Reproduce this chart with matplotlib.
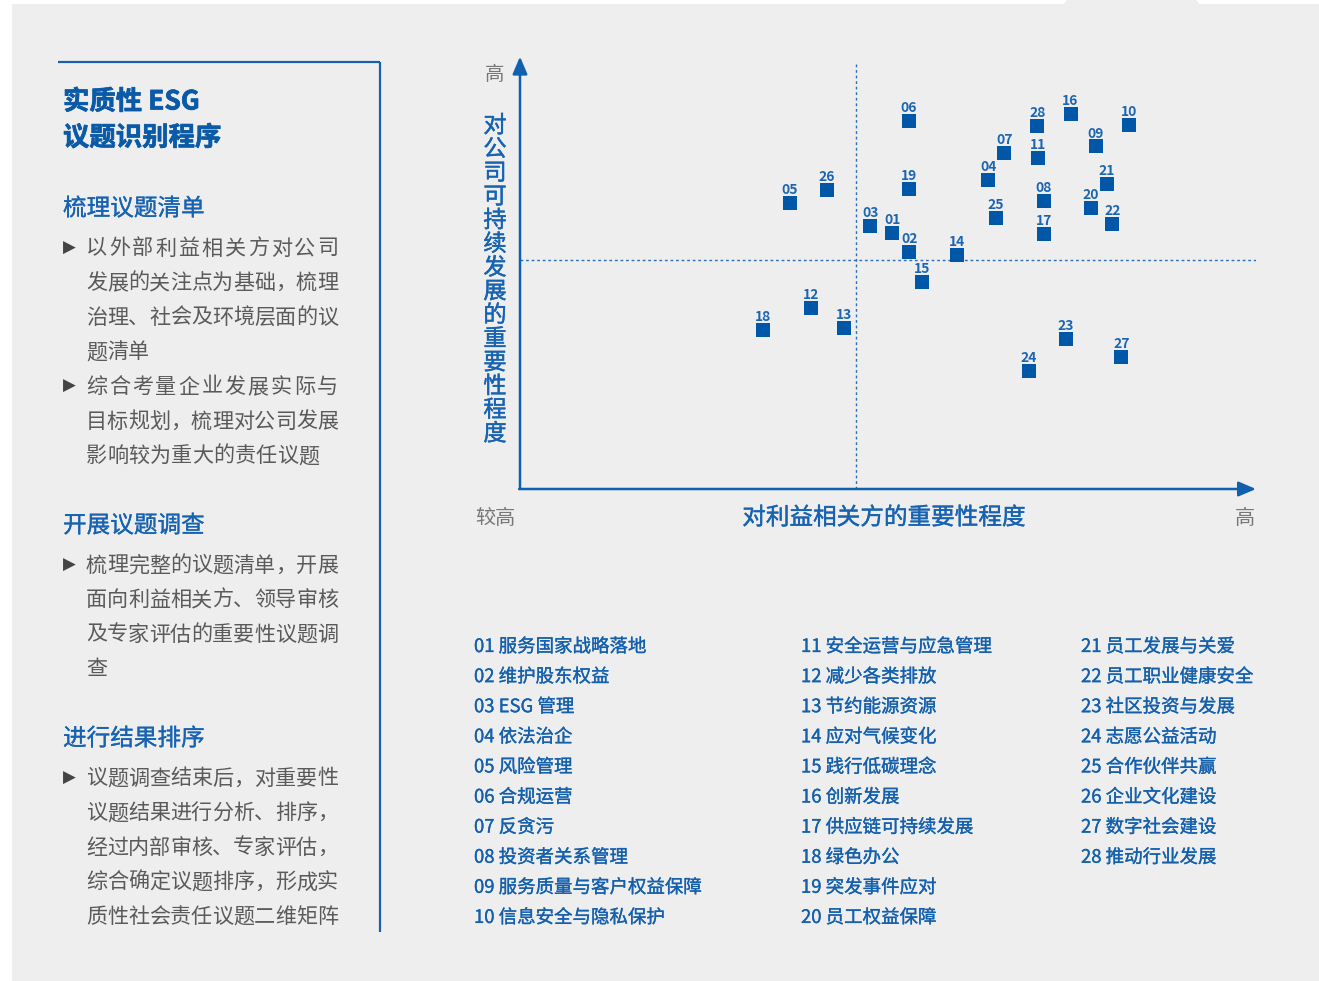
import matplotlib
matplotlib.use("Agg")
import matplotlib.pyplot as plt
from matplotlib.patches import Rectangle, Polygon
import matplotlib.patheffects as pe

plt.rcParams['font.family'] = ['Noto Sans CJK SC', 'DejaVu Sans']

# ---------------- data ----------------
ids = ["01", "02", "03", "04", "05", "06", "07", "08", "09", "10",
       "11", "12", "13", "14", "15", "16", "17", "18", "19", "20",
       "21", "22", "23", "24", "25", "26", "27", "28"]
stakeholder = [50.6, 52.9, 47.6, 63.6, 36.7, 52.8, 65.8, 71.2, 78.2, 82.8,
               70.4, 39.5, 44.0, 59.4, 54.6, 74.8, 71.2, 33.0, 52.8, 77.6,
               79.7, 80.5, 74.2, 69.1, 64.7, 41.7, 81.7, 70.3]
company = [60.2, 55.7, 61.8, 72.6, 67.2, 86.5, 78.9, 67.7, 80.4, 85.5,
           77.8, 42.6, 37.9, 55.0, 48.7, 88.1, 59.9, 37.4, 70.5, 66.0,
           71.7, 62.3, 35.3, 27.8, 63.7, 70.3, 31.1, 85.3]
x_threshold = 45.7
y_threshold = 53.7

topics = ["服务国家战略落地", "维护股东权益", "ESG 管理", "依法治企", "风险管理",
          "合规运营", "反贪污", "投资者关系管理", "服务质量与客户权益保障", "信息安全与隐私保护",
          "安全运营与应急管理", "减少各类排放", "节约能源资源", "应对气候变化", "践行低碳理念",
          "创新发展", "供应链可持续发展", "绿色办公", "突发事件应对", "员工权益保障",
          "员工发展与关爱", "员工职业健康安全", "社区投资与发展", "志愿公益活动", "合作伙伴共赢",
          "企业文化建设", "数字社会建设", "推动行业发展"]

panel_title = ["实质性 ESG", "议题识别程序"]
sections = [
    ("梳理议题清单", [["以外部利益相关方对公司", "发展的关注点为基础，梳理", "治理、社会及环境层面的议", "题清单"],
                    ["综合考量企业发展实际与", "目标规划，梳理对公司发展", "影响较为重大的责任议题"]]),
    ("开展议题调查", [["梳理完整的议题清单，开展", "面向利益相关方、领导审核", "及专家评估的重要性议题调", "查"]]),
    ("进行结果排序", [["议题调查结束后，对重要性", "议题结果进行分析、排序，", "经过内部审核、专家评估，", "综合确定议题排序，形成实", "质性社会责任议题二维矩阵"]]),
]
y_axis_title = "对公司可持续发展的重要性程度"
x_axis_title = "对利益相关方的重要性程度"

# ---------------- style ----------------
BG = "#eeeeee"
BLUE_DARK = "#0a5aa8"
BLUE = "#1763b2"
MARK = "#0057a8"
GREY = "#5a5a5a"
W, H = 1319, 981
DY = 3  # vertical correction of centred CJK text


def medium(color, w=0.25):
    return [pe.withStroke(linewidth=w, foreground=color)]


fig = plt.figure(figsize=(W / 100, H / 100), dpi=100)
fig.patch.set_facecolor("white")
bg = fig.add_axes([0, 0, 1, 1])
bg.set_xlim(0, W)
bg.set_ylim(H, 0)
bg.axis("off")

bg.add_patch(Rectangle((12, 4), W - 12, H - 4, facecolor=BG, edgecolor="none"))
bg.add_patch(Polygon([(1063, 4.5), (1067, 0), (1196, 0), (1200, 4.5)], closed=True,
                     facecolor=BG, edgecolor="none"))

# left frame
bg.plot([58, 379.5], [62, 62], color="#1a5fa8", lw=1.6, solid_capstyle="butt")
bg.plot([379.5, 379.5], [62, 932], color="#1a5fa8", lw=1.6, solid_capstyle="butt")

# panel title
bg.text(63, 99 + DY, panel_title[0], fontsize=19, fontweight="bold", color=BLUE_DARK, va="center", ha="left",
        path_effects=medium(BLUE_DARK, 0.5))
bg.text(63, 135 + DY, panel_title[1], fontsize=19, fontweight="bold", color=BLUE_DARK, va="center", ha="left",
        path_effects=medium(BLUE_DARK, 0.5))

head_y = [206, 523, 736]
line_gap = 34.6
TXT_L, TXT_R = 86, 338
EM = 21.0
NAT_STEP = 21.2
for (head, bullets), hy in zip(sections, head_y):
    bg.text(63, hy + DY, head, fontsize=17, color=BLUE, va="center", ha="left",
            path_effects=medium(BLUE, 0.2))
    y = hy + 39.5
    for lines in bullets:
        bg.text(69, y + DY - 1, "▶", fontsize=12, color="#444444", va="center", ha="center",
                family=["DejaVu Sans"])
        for k, ln in enumerate(lines):
            n = len(ln)
            last = (k == len(lines) - 1)
            just = (TXT_R - TXT_L - EM) / (n - 1) if n > 1 else NAT_STEP
            step = min(NAT_STEP, just) if last else just
            for i, ch in enumerate(ln):
                bg.text(TXT_L + EM / 2 + i * step, y + DY, ch, fontsize=15.2, color=GREY,
                        va="center", ha="center")
            y += line_gap

# ---------------- matrix ----------------
ax = fig.add_axes([520 / W, 1 - 489 / H, 736 / W, 426 / H])
ax.set_xlim(0, 100)
ax.set_ylim(0, 100)
ax.axis("off")
ax.patch.set_alpha(0)

ax.plot([x_threshold, x_threshold], [0, 100.3], color="#2a6fb8", lw=1.0, ls=(0, (2, 2)))
ax.plot([0, 100], [y_threshold, y_threshold], color="#2a6fb8", lw=1.0, ls=(0, (2, 2)))

arrow = dict(arrowstyle="-|>,head_length=0.75,head_width=0.32", color="#1060ae",
             lw=1.8, mutation_scale=14, shrinkA=0, shrinkB=0)
ax.annotate("", xy=(0, 101.5), xytext=(0, 0), arrowprops=arrow, annotation_clip=False)
ax.annotate("", xy=(100, 0), xytext=(-0.12, 0), arrowprops=arrow, annotation_clip=False)

ax.scatter(stakeholder, company, marker="s", s=100, color=MARK, linewidths=0, zorder=3, clip_on=False)
for lab, xv, yv in zip(ids, stakeholder, company):
    ax.annotate(lab, (xv, yv), xytext=(0, 9.3), textcoords="offset points", ha="center", va="center",
                fontsize=10, fontweight="bold", color="#1c65b2", annotation_clip=False)

# axis labels
bg.text(495, 72 + DY, "高", fontsize=14, color="#777777", va="center", ha="center")
for i, ch in enumerate(y_axis_title):
    bg.text(495, 123 + DY + i * 23.7, ch, fontsize=16.8, color=BLUE,
            va="center", ha="center", path_effects=medium(BLUE, 0.3))
bg.text(495, 515 + DY, "较高", fontsize=14.5, color="#777777", va="center", ha="center")
bg.text(1245, 515 + DY, "高", fontsize=14.5, color="#777777", va="center", ha="center")
bg.text(884, 515 + DY, x_axis_title, fontsize=17, color=BLUE, va="center", ha="center",
        path_effects=medium(BLUE, 0.3))

# legend list
col_x = [474, 801, 1081]
for i, (lab, t) in enumerate(zip(ids, topics)):
    c, r = divmod(i, 10)
    bg.text(col_x[c], 644 + DY + r * 30.1, f"{lab} {t}", fontsize=13.3,
            color="#1460ad", va="center", ha="left", path_effects=medium("#1460ad", 0.22))

fig.savefig("out.png", dpi=100, facecolor="white")
